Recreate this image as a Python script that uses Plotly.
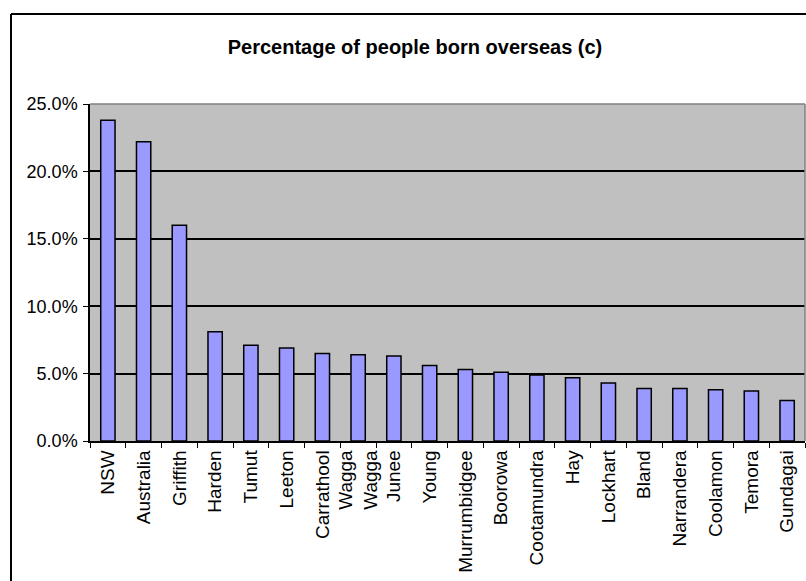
import plotly.graph_objects as go

# Share of residents born overseas, by area
areas = ["NSW", "Australia", "Griffith", "Harden", "Tumut", "Leeton", "Carrathool",
         "Wagga<br>Wagga", "Junee", "Young", "Murrumbidgee", "Boorowa", "Cootamundra",
         "Hay", "Lockhart", "Bland", "Narrandera", "Coolamon", "Temora", "Gundagai"]
born_overseas = [0.238, 0.222, 0.160, 0.081, 0.071, 0.069, 0.065,
                 0.064, 0.063, 0.056, 0.053, 0.051, 0.049,
                 0.047, 0.043, 0.039, 0.039, 0.038, 0.037, 0.030]

W, H = 806, 581
L, R, T, B = 90, 1, 104, 140
pw, ph = W - L - R, H - T - B

fig = go.Figure(go.Bar(
    x=areas, y=born_overseas, width=0.4,
    marker=dict(color="#9999FF", line=dict(color="#000000", width=1.5)),
    hoverinfo="x+y",
))

font = "Liberation Sans, Arial, sans-serif"

# outer chart frame
fx0 = (11 - L) / pw
fy1 = (H - B - 14) / ph
shapes = [
    dict(type="line", xref="paper", yref="paper", x0=fx0, x1=fx0, y0=fy1, y1=-1,
         line=dict(color="#000000", width=2)),
    dict(type="line", xref="paper", yref="paper", x0=fx0, x1=1.2, y0=fy1, y1=fy1,
         line=dict(color="#000000", width=2)),
    # plot area frame (top and right edges)
    dict(type="line", xref="paper", yref="paper", x0=0, x1=1, y0=1, y1=1,
         line=dict(color="#808080", width=1.5)),
    dict(type="line", xref="paper", yref="paper", x0=1, x1=1, y0=0, y1=1,
         line=dict(color="#808080", width=1.5)),
]

fig.update_layout(
    width=W, height=H,
    margin=dict(l=L, r=R, t=T, b=B, autoexpand=False),
    paper_bgcolor="#FFFFFF", plot_bgcolor="#C0C0C0",
    font=dict(family=font, color="#000000"),
    title=dict(text="<b>Percentage of people born overseas (c)</b>",
               x=415 / W, xanchor="center", y=1 - 47 / H, yanchor="middle",
               font=dict(size=20, family=font, color="#000000")),
    showlegend=False,
    bargap=0.6,
    shapes=shapes,
    xaxis=dict(
        type="category", tickangle=-90, tickson="boundaries",
        ticks="outside", ticklen=5, tickcolor="#000000", tickwidth=1,
        showline=True, linecolor="#000000", linewidth=1.5,
        showgrid=False, tickfont=dict(size=19, family=font, color="#000000"),
        range=[-0.5, len(areas) - 0.5],
    ),
    yaxis=dict(
        range=[0, 0.25], dtick=0.05, tickformat=".1%",
        ticks="outside", ticklen=5, tickcolor="#000000", tickwidth=1,
        showline=True, linecolor="#000000", linewidth=1.5,
        showgrid=True, gridcolor="#000000", gridwidth=1.5,
        zeroline=False, ticklabelstandoff=2,
        tickfont=dict(size=18, family=font, color="#000000"),
    ),
)

fig.write_html("out.html")
